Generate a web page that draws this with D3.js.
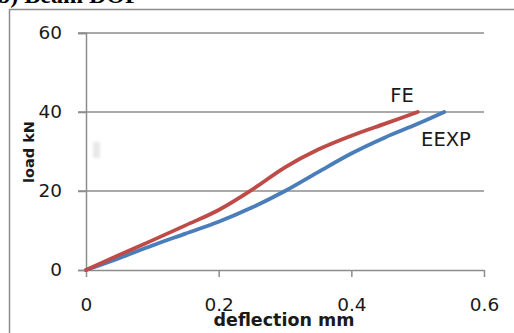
<!DOCTYPE html>
<html>
<head>
<meta charset="utf-8">
<script src="https://cdn.jsdelivr.net/npm/d3@7.9.0/dist/d3.min.js"></script>
<style>
  body { margin: 0; background: #fff; }
  svg { display: block; }
  text { font-family: "DejaVu Sans", Verdana, sans-serif; fill: #1a1a1a; }
</style>
</head>
<body>
<svg id="chart" width="514" height="333"></svg>
<script>
// series values
const feX = [0, 0.05, 0.1, 0.15, 0.2, 0.25, 0.3, 0.35, 0.4, 0.45, 0.5];
const feY = [0, 3.8, 7.5, 11.3, 15.2, 20.3, 26, 30.5, 34, 37, 40];
const expX = [0, 0.05, 0.1, 0.15, 0.2, 0.25, 0.3, 0.35, 0.4, 0.45, 0.5, 0.54];
const expY = [0, 3, 6.2, 9.2, 12.2, 15.8, 20, 24.8, 29.5, 33.5, 37, 40];
const xTicks = [0, 0.2, 0.4, 0.6];
const yTicks = [0, 20, 40, 60];

const svg = d3.select("#chart");
const x = d3.scaleLinear().domain([0, 0.6]).range([86, 484]);
const y = d3.scaleLinear().domain([0, 60]).range([270, 33]);

// cut-off title at the top
svg.append("text")
  .attr("x", -3).attr("y", 3)
  .style("font-family", "'Liberation Serif', serif")
  .style("font-weight", "bold")
  .style("font-size", "24px")
  .style("fill", "#000")
  .text("b) Beam DOP");

// outer chart frame
svg.append("rect")
  .attr("x", 9.5).attr("y", 9.5)
  .attr("width", 520).attr("height", 340)
  .attr("fill", "none").attr("stroke", "#8c8c8c").attr("stroke-width", 1.5);

// faint artifact
svg.append("rect")
  .attr("x", 93).attr("y", 142).attr("width", 7).attr("height", 16)
  .attr("fill", "#e8e8e8").style("filter", "blur(1.5px)");

// gridlines
svg.append("g")
  .selectAll("line")
  .data(yTicks.filter(d => d > 0))
  .join("line")
  .attr("x1", x(0) - 8).attr("x2", x(0.6))
  .attr("y1", d => y(d)).attr("y2", d => y(d))
  .attr("stroke", "#8c8c8c").attr("stroke-width", 1.5);

// y axis
const yAxis = svg.append("g")
  .attr("transform", `translate(${x(0)},0)`)
  .call(d3.axisLeft(y).tickValues(yTicks).tickSize(8).tickPadding(16).tickFormat(d3.format("d")));
yAxis.select(".domain").attr("stroke", "#8c8c8c").attr("stroke-width", 1.5);
yAxis.selectAll(".tick line").attr("stroke", "#8c8c8c").attr("stroke-width", 1.5);
yAxis.selectAll(".tick text").style("font-size", "18.5px").style("fill", "#1a1a1a")
  .style("font-family", "'DejaVu Sans', sans-serif");

// x axis
const xAxis = svg.append("g")
  .attr("transform", `translate(0,${y(0)})`)
  .call(d3.axisBottom(x).tickValues(xTicks).tickSize(7).tickSizeOuter(0).tickPadding(21)
    .tickFormat(d => d === 0 ? "0" : d3.format(".1f")(d)));
xAxis.select(".domain").attr("stroke", "#8c8c8c").attr("stroke-width", 1.5);
xAxis.selectAll(".tick line").attr("stroke", "#8c8c8c").attr("stroke-width", 1.5);
xAxis.selectAll(".tick text").style("font-size", "18.5px").style("fill", "#1a1a1a")
  .style("font-family", "'DejaVu Sans', sans-serif");

// axis titles
svg.append("text")
  .attr("x", 284).attr("y", 326)
  .attr("text-anchor", "middle")
  .style("font-weight", "bold").style("font-size", "17.5px")
  .text("deflection mm");

svg.append("text")
  .attr("transform", "translate(34,152) rotate(-90)")
  .attr("text-anchor", "middle")
  .style("font-weight", "bold").style("font-size", "14.5px")
  .text("load kN");

// lines
const line = d3.line()
  .x(d => x(d[0])).y(d => y(d[1]))
  .curve(d3.curveMonotoneX);

svg.append("path")
  .datum(expX.map((v, i) => [v, expY[i]]))
  .attr("d", line)
  .attr("fill", "none").attr("stroke", "#4a7ebb").attr("stroke-width", 3.8)
  .attr("stroke-linecap", "round");

svg.append("path")
  .datum(feX.map((v, i) => [v, feY[i]]))
  .attr("d", line)
  .attr("fill", "none").attr("stroke", "#be4b48").attr("stroke-width", 3.8)
  .attr("stroke-linecap", "round");

// series labels
svg.append("text")
  .attr("x", 402).attr("y", 102)
  .attr("text-anchor", "middle")
  .style("font-size", "19.5px")
  .text("FE");

svg.append("text")
  .attr("x", 446).attr("y", 146)
  .attr("text-anchor", "middle")
  .style("font-size", "19.5px")
  .text("EEXP");
</script>
</body>
</html>
